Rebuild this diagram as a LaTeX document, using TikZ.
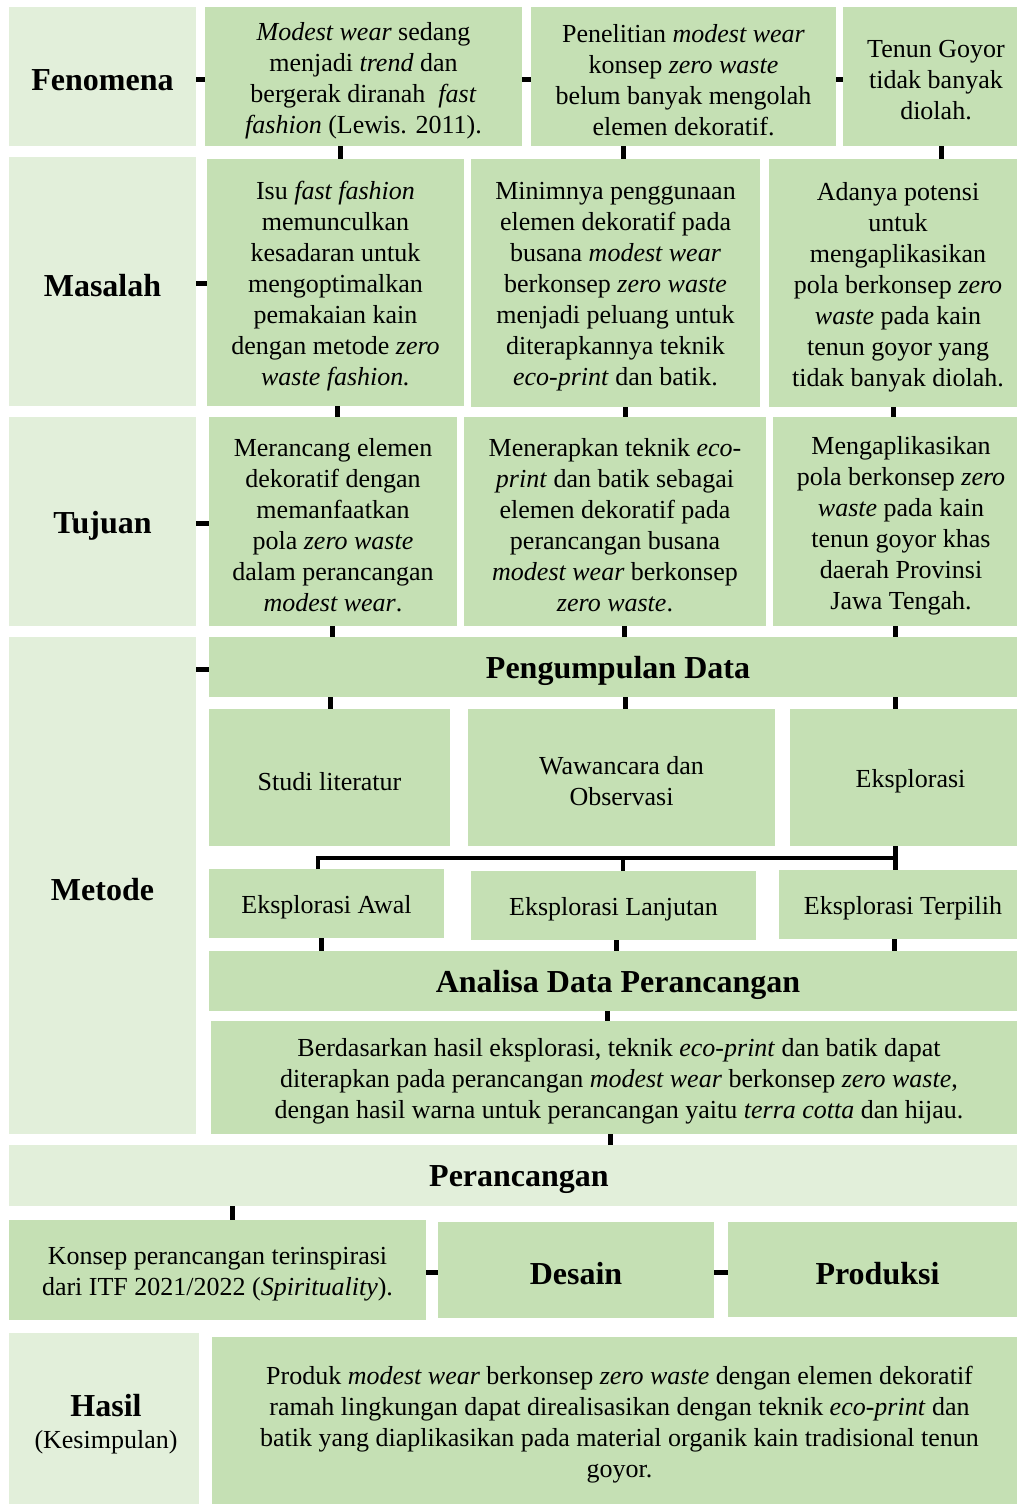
\documentclass[tikz,border=0pt]{standalone}
\usepackage{fontspec}
\setmainfont{Liberation Serif}
\definecolor{lightg}{HTML}{E2EFDA}
\definecolor{midg}{HTML}{C5E0B4}
\newcommand\mybox[8][0]{%
 \pgfmathsetmacro\cx{(#4+#6)/2}\pgfmathsetmacro\cy{(#5+#7)/2}%
 \pgfmathsetmacro\ww{#6-#4}\pgfmathsetmacro\hh{#7-#5}%
 \node[#3, minimum width=\ww pt, minimum height=\hh pt] (#2) at (\cx,\cy) {};
 \node[#3, fill=none, xshift=#1 pt, yshift=-4pt] at (#2.center) {#8};}
\tikzset{
 basebox/.style={inner sep=0pt, outer sep=0pt, align=center, font=\fontsize{26}{31}\selectfont},
 labelbox/.style={basebox, fill=lightg, font=\fontsize{32}{36}\selectfont\bfseries},
 contbox/.style={basebox, fill=midg},
 headbox/.style={basebox, fill=midg, font=\fontsize{32}{36}\selectfont\bfseries},
 conn/.style={line width=5pt, black},
 brack/.style={line width=4.5pt, black},
}
\begin{document}
\begin{tikzpicture}[x=1pt,y=-1pt]
\useasboundingbox (0,0) rectangle (1017,1504);
% left column
\mybox{fen}{labelbox}{9}{7}{196}{146}{Fenomena}
\mybox{mas}{labelbox}{9}{157}{196}{406}{Masalah}
\mybox{tuj}{labelbox}{9}{417}{196}{626}{Tujuan}
\mybox{met}{labelbox}{9}{637}{196}{1134}{Metode}
\mybox{has}{labelbox}{9}{1333}{199}{1504}{}
\node[labelbox, fill=none, xshift=2pt, yshift=-6pt] (haslbl) at (has.center) {Hasil\\[-4pt]{\fontsize{26}{31}\selectfont\mdseries (Kesimpulan)}};
% row 1
\mybox{r1a}{contbox}{205}{7}{522}{146}{\textit{Modest wear} sedang\\menjadi \textit{trend} dan\\bergerak diranah \ \textit{fast}\\\textit{fashion} (Lewis. 2011).}
\mybox{r1b}{contbox}{531}{7}{836}{146}{Penelitian \textit{modest wear}\\konsep \textit{zero waste}\\belum banyak mengolah\\elemen dekoratif.}
\mybox[6]{r1c}{contbox}{843}{7}{1017}{146}{Tenun Goyor\\tidak banyak\\diolah.}
% row 2
\mybox{r2a}{contbox}{207}{159}{464}{406}{Isu \textit{fast fashion}\\memunculkan\\kesadaran untuk\\mengoptimalkan\\pemakaian kain\\dengan metode \textit{zero}\\\textit{waste fashion.}}
\mybox{r2b}{contbox}{471}{159}{760}{407}{Minimnya penggunaan\\elemen dekoratif pada\\busana \textit{modest wear}\\berkonsep \textit{zero waste}\\menjadi peluang untuk\\diterapkannya teknik\\\textit{eco-print} dan batik.}
\mybox[5]{r2c}{contbox}{769}{159}{1017}{407}{Adanya potensi\\untuk\\mengaplikasikan\\pola berkonsep \textit{zero}\\\textit{waste} pada kain\\tenun goyor yang\\tidak banyak diolah.}
% row 3
\mybox{r3a}{contbox}{209}{417}{457}{626}{Merancang elemen\\dekoratif dengan\\memanfaatkan\\pola \textit{zero waste}\\dalam perancangan\\\textit{modest wear}.}
\mybox{r3b}{contbox}{464}{417}{766}{626}{Menerapkan teknik \textit{eco-}\\\textit{print} dan batik sebagai\\elemen dekoratif pada\\perancangan busana\\\textit{modest wear} berkonsep\\\textit{zero waste}.}
\mybox[6]{r3c}{contbox}{773}{417}{1017}{626}{Mengaplikasikan\\pola berkonsep \textit{zero}\\\textit{waste} pada kain\\tenun goyor khas\\daerah Provinsi\\Jawa Tengah.}
% metode
\mybox[5]{pd}{headbox}{209}{637}{1017}{697}{Pengumpulan Data}
\mybox{stu}{contbox}{209}{709}{450}{846}{Studi literatur}
\mybox{waw}{contbox}{468}{709}{775}{846}{Wawancara dan\\Observasi}
\mybox[7]{eks}{contbox}{790}{709}{1017}{846}{Eksplorasi}
\mybox{awal}{contbox}{209}{869}{444}{938}{Eksplorasi Awal}
\mybox{lanj}{contbox}{471}{871}{756}{940}{Eksplorasi Lanjutan}
\mybox[5]{terp}{contbox}{779}{870}{1017}{939}{Eksplorasi Terpilih}
\mybox[5]{ana}{headbox}{209}{951}{1017}{1011}{Analisa Data Perancangan}
\mybox[5]{ber}{contbox}{211}{1021}{1017}{1134}{Berdasarkan hasil eksplorasi, teknik \textit{eco-print} dan batik dapat\\diterapkan pada perancangan \textit{modest wear} berkonsep \textit{zero waste},\\dengan hasil warna untuk perancangan yaitu \textit{terra cotta} dan hijau.}
% perancangan
\mybox[6]{per}{labelbox}{9}{1145}{1017}{1206}{Perancangan}
\mybox{kon}{contbox}{9}{1220}{426}{1320}{Konsep perancangan terinspirasi\\dari ITF 2021/2022 (\textit{Spirituality}).}
\mybox{des}{headbox}{438}{1222}{714}{1318}{Desain}
\mybox[5]{prod}{headbox}{728}{1222}{1017}{1317}{Produksi}
% hasil
\mybox[5]{hbox}{contbox}{212}{1337}{1017}{1504}{Produk \textit{modest wear} berkonsep \textit{zero waste} dengan elemen dekoratif\\ramah lingkungan dapat direalisasikan dengan teknik \textit{eco-print} dan\\batik yang diaplikasikan pada material organik kain tradisional tenun\\goyor.}
% connectors: horizontal
\draw[conn] (0,79 -| fen.east) -- (0,79 -| r1a.west);
\draw[conn] (0,79 -| r1a.east) -- (0,79 -| r1b.west);
\draw[conn] (0,79 -| r1b.east) -- (0,79 -| r1c.west);
\draw[conn] (0,283 -| mas.east) -- (0,283 -| r2a.west);
\draw[conn] (0,523 -| tuj.east) -- (0,523 -| r3a.west);
\draw[conn] (0,669 -| met.east) -- (0,669 -| pd.west);
% row1 -> row2
\draw[conn] (340,0 |- r1a.south) -- (340,0 |- r2a.north);
\draw[conn] (623,0 |- r1b.south) -- (623,0 |- r2b.north);
\draw[conn] (941,0 |- r1c.south) -- (941,0 |- r2c.north);
% row2 -> row3
\draw[conn] (337,0 |- r2a.south) -- (337,0 |- r3a.north);
\draw[conn] (625,0 |- r2b.south) -- (625,0 |- r3b.north);
\draw[conn] (893,0 |- r2c.south) -- (893,0 |- r3c.north);
% row3 -> pengumpulan
\draw[conn] (332,0 |- r3a.south) -- (332,0 |- pd.north);
\draw[conn] (624,0 |- r3b.south) -- (624,0 |- pd.north);
\draw[conn] (895,0 |- r3c.south) -- (895,0 |- pd.north);
% pengumpulan -> methods
\draw[conn] (330,0 |- pd.south) -- (330,0 |- stu.north);
\draw[conn] (625,0 |- pd.south) -- (625,0 |- waw.north);
\draw[conn] (895,0 |- pd.south) -- (895,0 |- eks.north);
% bracket
\coordinate (bl) at (318,858);
\coordinate (br) at (895,858);
\draw[brack] (318,0 |- awal.north) -- (bl) -- (br);
\draw[brack] (623,858) -- (623,0 |- lanj.north);
\draw[conn] (895,0 |- eks.south) -- (895,0 |- terp.north);
% explorations -> analisa
\draw[conn] (321,0 |- awal.south) -- (321,0 |- ana.north);
\draw[conn] (616,0 |- lanj.south) -- (616,0 |- ana.north);
\draw[conn] (894,0 |- terp.south) -- (894,0 |- ana.north);
\draw[conn] (607,0 |- ana.south) -- (607,0 |- ber.north);
\draw[conn] (610,0 |- ber.south) -- (610,0 |- per.north);
\draw[conn] (232,0 |- per.south) -- (232,0 |- kon.north);
\draw[conn] (0,1272 -| kon.east) -- (0,1272 -| des.west);
\draw[conn] (0,1272 -| des.east) -- (0,1272 -| prod.west);
\end{tikzpicture}
\end{document}
